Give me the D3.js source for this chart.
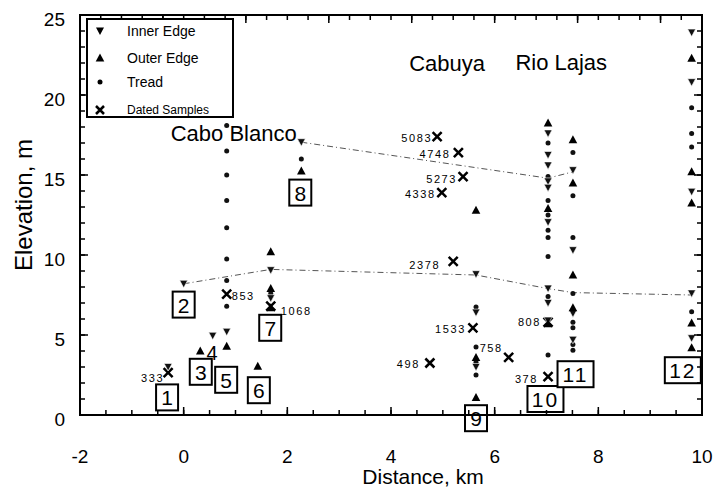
<!DOCTYPE html>
<html>
<head>
<meta charset="utf-8">
<script src="https://cdn.jsdelivr.net/npm/d3@7"></script>
</head>
<body style="margin:0; background:#fff">
<div id="chart"></div>
<script>
let width = 719;
let height = 495;

// terrace survey points [distance km, elevation m]
let innerEdge = [
  [-0.3, 3.0], [0.0, 8.2], [0.56, 4.95], [0.83, 5.2], [1.68, 9.05], [1.68, 7.3],
  [2.27, 17.05], [5.64, 8.8], [5.64, 6.4], [5.64, 3.0],
  [7.03, 17.6], [7.03, 16.25], [7.03, 15.6], [7.03, 14.6], [7.03, 14.2], [7.03, 12.05],
  [7.03, 7.9], [7.03, 7.0], [7.03, 5.9],
  [7.51, 15.3], [7.51, 10.3], [7.51, 6.35], [7.51, 4.7],
  [9.8, 23.9], [9.8, 20.8], [9.8, 13.95], [9.8, 7.6], [9.8, 4.8]
];
let outerEdge = [
  [0.32, 4.0], [0.83, 4.3], [1.43, 3.05], [1.68, 10.2], [1.68, 7.9], [1.68, 6.7],
  [2.27, 15.25], [5.64, 12.8], [5.64, 3.6], [5.64, 1.1],
  [7.03, 18.25], [7.03, 12.9], [7.03, 5.7],
  [7.51, 17.2], [7.51, 14.5], [7.51, 8.75], [7.51, 6.7],
  [9.8, 22.3], [9.8, 15.2], [9.8, 13.25], [9.8, 5.75], [9.8, 4.2]
];
let tread = [
  [0.83, 19.75], [0.83, 18.1], [0.83, 16.5], [0.83, 15.0], [0.83, 13.4], [0.83, 11.7],
  [0.83, 9.75], [0.83, 8.4], [0.83, 6.8], [1.68, 7.6], [2.27, 16.0],
  [5.64, 6.75], [5.64, 4.25], [5.64, 3.3], [5.64, 2.5],
  [7.03, 17.0], [7.03, 14.9], [7.03, 13.4], [7.03, 12.5], [7.03, 11.55], [7.03, 11.1],
  [7.03, 9.9], [7.03, 7.4], [7.03, 3.75],
  [7.51, 16.4], [7.51, 13.7], [7.51, 11.1], [7.51, 7.6], [7.51, 5.8], [7.51, 5.45],
  [7.51, 4.4], [7.51, 4.05],
  [9.8, 19.2], [9.8, 17.6], [9.8, 16.75], [9.8, 6.45]
];
// dated samples: [distance, elevation, age]
let dated = [
  [-0.3, 2.65, "333"], [0.83, 7.55, "853"], [1.68, 6.8, "1068"],
  [4.89, 17.4, "5083"], [5.3, 16.4, "4748"], [5.39, 14.9, "5273"], [4.98, 13.9, "4338"],
  [5.2, 9.6, "2378"], [5.58, 5.45, "1533"], [6.27, 3.6, "758"], [4.75, 3.25, "498"],
  [7.03, 5.8, "808"], [7.03, 2.4, "378"]
];
// correlated terrace lines
let upperTerrace = [[2.27, 17.05], [7.03, 14.8], [7.51, 15.2]];
let lowerTerrace = [[0.0, 8.2], [1.68, 9.1], [5.64, 8.75], [7.03, 7.9], [7.51, 7.65], [9.8, 7.5]];
// numbered site boxes [distance, elevation, number]
let sites = [
  [-0.32, 1.1, "1"], [0.0, 6.9, "2"], [0.33, 2.7, "3"], [0.82, 2.2, "5"], [1.45, 1.55, "6"],
  [1.67, 5.45, "7"], [2.25, 13.9, "8"], [5.64, -0.2, "9"], [6.98, 1.0, "10"],
  [7.56, 2.55, "11"], [9.63, 2.8, "12"]
];
let places = [[-0.25, 17.1, "Cabo Blanco"], [4.35, 21.5, "Cabuya"], [6.4, 21.55, "Rio Lajas"]];
let xTicks = [-2, 0, 2, 4, 6, 8, 10];
let yTicks = [0, 5, 10, 15, 20, 25];

// label placement (px offsets from the X mark)
let ageOffset = {
  "333": [-4, 9, "end"], "853": [5, 6, "start"], "1068": [10, 9, "start"],
  "5083": [-5, 5, "end"], "4748": [-8, 5, "end"], "5273": [-6, 6, "end"], "4338": [-6, 5, "end"],
  "2378": [-13, 8, "end"], "1533": [-7, 5, "end"], "758": [-29, -5, "start"],
  "498": [-10, 5, "end"], "808": [-7, 4, "end"], "378": [-10, 6, "end"]
};

let x = d3.scaleLinear().domain([-2, 10]).range([80, 702]);
let y = d3.scaleLinear().domain([0, 25]).range([415, 15]);

let svg = d3.select("#chart").append("svg")
  .attr("width", width)
  .attr("height", height)
  .style("font-family", "'Liberation Sans', Arial, sans-serif");

// tick labels
svg.append("g").selectAll("text").data(xTicks).enter().append("text")
  .attr("x", d => x(d)).attr("y", 463)
  .attr("text-anchor", "middle").attr("font-size", 19)
  .text(d => d);
svg.append("g").selectAll("text").data(yTicks).enter().append("text")
  .attr("x", 65).attr("y", d => y(d) + 11)
  .attr("text-anchor", "end").attr("font-size", 19)
  .text(d => d);

svg.append("text").attr("x", 423).attr("y", 484)
  .attr("text-anchor", "middle").attr("font-size", 21)
  .text("Distance, km");
svg.append("text")
  .attr("transform", "translate(32,205) rotate(-90)")
  .attr("text-anchor", "middle").attr("font-size", 24)
  .text("Elevation, m");

// terrace lines
let line = d3.line().x(d => x(d[0])).y(d => y(d[1]));
[upperTerrace, lowerTerrace].forEach(t => {
  svg.append("path").attr("d", line(t))
    .attr("fill", "none").attr("stroke", "#555").attr("stroke-width", 1)
    .attr("stroke-dasharray", "6,3,1,3");
});

// dated samples
let ages = svg.append("g");
dated.forEach(d => {
  let px = x(d[0]), py = y(d[1]);
  ages.append("path")
    .attr("d", `M${px - 4.5},${py - 4.5}L${px + 4.5},${py + 4.5}M${px + 4.5},${py - 4.5}L${px - 4.5},${py + 4.5}`)
    .attr("stroke", "#000").attr("stroke-width", 2.5);
  let o = ageOffset[d[2]];
  ages.append("text")
    .attr("x", px + o[0]).attr("y", py + o[1])
    .attr("text-anchor", o[2]).attr("font-size", 11).attr("letter-spacing", 1.6)
    .text(d[2]);
});

function down(px, py) { return `M${px - 4},${py - 3.5}L${px + 4},${py - 3.5}L${px},${py + 4}Z`; }
function up(px, py) { return `M${px - 4.3},${py + 3.5}L${px + 4.3},${py + 3.5}L${px},${py - 4.5}Z`; }

svg.append("g").selectAll("circle").data(tread).enter().append("circle")
  .attr("cx", d => x(d[0])).attr("cy", d => y(d[1])).attr("r", 2.5)
  .attr("fill", "#111");
svg.append("g").selectAll("path").data(innerEdge).enter().append("path")
  .attr("d", d => down(x(d[0]), y(d[1])))
  .attr("fill", "#111").attr("stroke", "#fff").attr("stroke-width", 0.6);
svg.append("g").selectAll("path").data(outerEdge).enter().append("path")
  .attr("d", d => up(x(d[0]), y(d[1])))
  .attr("fill", "#000");

// place names
svg.append("g").selectAll("text").data(places).enter().append("text")
  .attr("x", d => x(d[0])).attr("y", d => y(d[1]))
  .attr("font-size", 22)
  .text(d => d[2]);

// numbered site boxes
let box = svg.append("g").selectAll("g").data(sites).enter().append("g")
  .attr("transform", d => `translate(${x(d[0])},${y(d[1])})`);
box.append("rect")
  .attr("x", d => d[2].length > 1 ? -18 : -11).attr("y", -13)
  .attr("width", d => d[2].length > 1 ? 36 : 22).attr("height", 26)
  .attr("fill", "#fff").attr("stroke", "#000").attr("stroke-width", 2);
box.append("text")
  .attr("y", 8).attr("text-anchor", "middle").attr("font-size", 21)
  .attr("letter-spacing", d => d[2].length > 1 ? 2 : 0)
  .text(d => d[2]);
svg.append("text").attr("x", x(0.55)).attr("y", y(3.9) + 7)
  .attr("text-anchor", "middle").attr("font-size", 20).text("4");

// frame and inward ticks as filled bars
let xMinor = d3.range(-2, 10.01, 0.5);
let topMinor = d3.range(0, 31).map(i => -2 + i * 0.4);
let topMajor = topMinor.filter((v, i) => i % 4 === 0);
let yMinor = d3.range(0, 26);
let bars = [];
xMinor.forEach(v => bars.push([x(v) - 0.75, y(0) - 5, 1.5, 5]));
xTicks.forEach(v => bars.push([x(v) - 0.75, y(0) - 8, 1.5, 8]));
topMinor.forEach(v => bars.push([x(v) - 0.75, y(25), 1.5, 5]));
topMajor.forEach(v => bars.push([x(v) - 0.75, y(25), 1.5, 8]));
yMinor.forEach(v => {
  bars.push([x(-2), y(v) - 0.75, 5, 1.5]);
  bars.push([x(10) - 5, y(v) - 0.75, 5, 1.5]);
});
yTicks.forEach(v => {
  bars.push([x(-2), y(v) - 0.75, 8, 1.5]);
  bars.push([x(10) - 8, y(v) - 0.75, 8, 1.5]);
});
bars.push([x(-2) - 1, y(25) - 1, x(10) - x(-2) + 2, 2]);
bars.push([x(-2) - 1, y(0) - 1, x(10) - x(-2) + 2, 2]);
bars.push([x(-2) - 1, y(25) - 1, 2, y(0) - y(25) + 2]);
bars.push([x(10) - 1, y(25) - 1, 2, y(0) - y(25) + 2]);
svg.append("g").selectAll("rect").data(bars).enter().append("rect")
  .attr("x", d => d[0]).attr("y", d => d[1])
  .attr("width", d => d[2]).attr("height", d => d[3])
  .attr("fill", "#000");

// legend
let legend = svg.append("g");
legend.append("rect").attr("x", 87).attr("y", 19).attr("width", 146).attr("height", 98)
  .attr("fill", "#fff").attr("stroke", "#000").attr("stroke-width", 2);
legend.append("path").attr("d", down(100, 31)).attr("fill", "#000");
legend.append("path").attr("d", up(100, 58)).attr("fill", "#000");
legend.append("circle").attr("cx", 100).attr("cy", 82).attr("r", 2.5).attr("fill", "#000");
legend.append("path").attr("d", "M96,106L104,114M104,106L96,114").attr("stroke", "#000").attr("stroke-width", 2.5);
let legendLabels = [["Inner Edge", 36, 14], ["Outer Edge", 63, 14], ["Tread", 87, 14], ["Dated Samples", 114, 12]];
legend.selectAll("text").data(legendLabels).enter().append("text")
  .attr("x", 127).attr("y", d => d[1]).attr("font-size", d => d[2])
  .text(d => d[0]);
</script>
</body>
</html>
